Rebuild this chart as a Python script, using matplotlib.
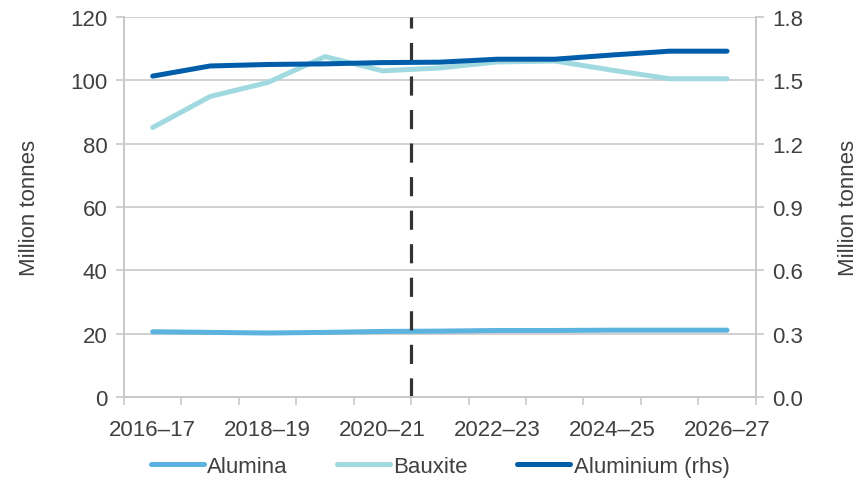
import matplotlib.pyplot as plt
import numpy as np

plt.rcParams['font.family'] = ['Liberation Sans', 'DejaVu Sans']

years = ['2016–17', '2017–18', '2018–19', '2019–20', '2020–21', '2021–22',
         '2022–23', '2023–24', '2024–25', '2025–26', '2026–27']
alumina = [20.6, 20.4, 20.2, 20.4, 20.7, 20.8, 21.0, 21.0, 21.1, 21.1, 21.1]
bauxite = [85.1, 94.9, 99.3, 107.5, 103.0, 103.9, 105.8, 106.1, 103.2, 100.5, 100.5]
aluminium = [1.52, 1.568, 1.575, 1.578, 1.584, 1.586, 1.60, 1.60, 1.62, 1.638, 1.638]
forecast_start = 4.5  # between 2020-21 and 2021-22

grey = '#c8c8c8'
txt = '#404040'
x = np.arange(len(years))

fig = plt.figure(figsize=(8.63, 4.81), dpi=100)
ax = fig.add_axes([0.1437, 0.1726, 0.732, 0.79])
ax2 = ax.twinx()

l1, = ax.plot(x, alumina, color='#5bb3e0', lw=3.6, solid_capstyle='round', label='Alumina')
l2, = ax.plot(x, bauxite, color='#a0dae0', lw=3.6, solid_capstyle='round', label='Bauxite')
l3, = ax2.plot(x, aluminium, color='#005daa', lw=3.6, solid_capstyle='round', label='Aluminium (rhs)')
ax.axvline(forecast_start, color='#333333', lw=2.3, dashes=(6, 4.5))

ax.set_xlim(-0.5, len(years) - 0.5)
ax.set_ylim(0, 120)
ax2.set_ylim(0, 1.8)
ax.set_yticks(np.arange(0, 121, 20))
ax2.set_yticks(np.arange(0, 1.81, 0.3))
ax2.set_yticklabels(['%.1f' % v for v in np.arange(0, 1.81, 0.3)])
ax.yaxis.grid(True, color=grey, lw=1.2)
ax.set_axisbelow(True)

ax.set_xticks(x[::2])
ax.set_xticklabels(years[::2])
ax.set_xticks(np.arange(-0.5, len(years)), minor=True)
ax.tick_params(axis='x', which='major', length=0, pad=16, labelsize=16, labelcolor=txt)
ax.tick_params(axis='x', which='minor', length=6, width=1.2, color=grey)
ax.tick_params(axis='y', length=6, width=1.2, color=grey, labelsize=16, labelcolor=txt, pad=6)
ax2.tick_params(axis='y', length=6, width=1.2, color=grey, labelsize=16, labelcolor=txt, pad=6)

for a in (ax, ax2):
    a.spines['top'].set_visible(False)
    for s in ('left', 'right', 'bottom'):
        a.spines[s].set_color(grey)
        a.spines[s].set_linewidth(1.2)

ax.set_ylabel('Million tonnes', fontsize=16, color=txt, labelpad=22)
ax2.set_ylabel('Million tonnes', fontsize=16, color=txt, labelpad=25)

fig.legend(handles=[l1, l2, l3], loc='lower center', bbox_to_anchor=(0.51, -0.035),
           ncol=3, frameon=False, fontsize=16, handlelength=2.4, handletextpad=0.15,
           columnspacing=2.2, labelcolor=txt)

fig.savefig('out.png', dpi=100)
